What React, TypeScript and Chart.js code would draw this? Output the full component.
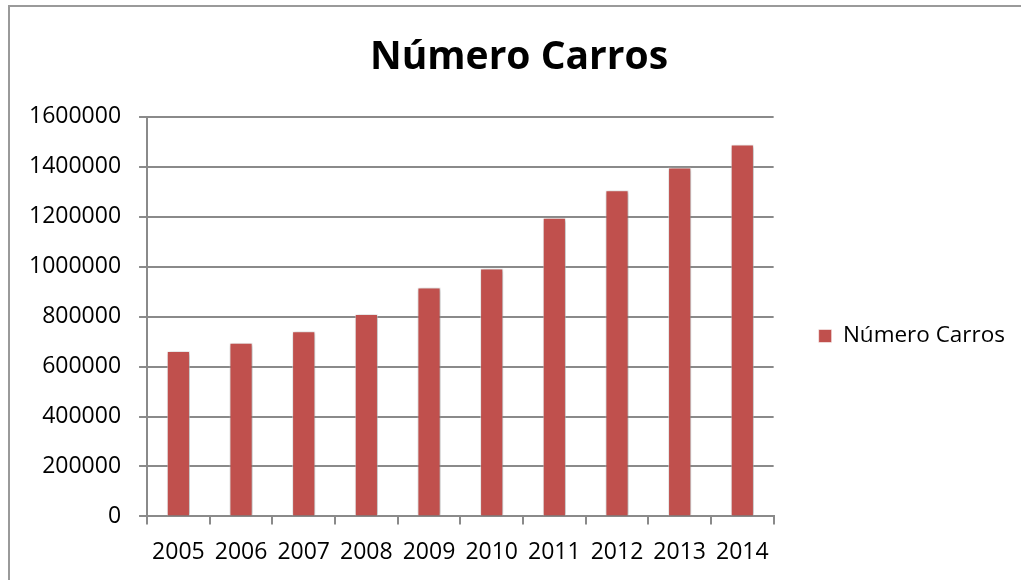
import React, { useEffect, useRef } from "react";
import { Chart, registerables } from "chart.js";

Chart.register(...registerables);

const categories = ["2005", "2006", "2007", "2008", "2009", "2010", "2011", "2012", "2013", "2014"];
const carros = [662000, 695000, 741000, 810000, 917000, 993000, 1196000, 1306000, 1397000, 1489000];
const seriesName = "Número Carros";
const chartTitle = "Número Carros";
const yMin = 0;
const yMax = 1600000;
const yStep = 200000;

const FONT = "'Open Sans', 'Noto Sans', sans-serif";

const shadowPlugin = {
  id: "barShadow",
  afterLayout(chart: any) {
    if (chart.titleBlock) {
      chart.titleBlock.left += 12;
    }
  },
  beforeDatasetsDraw(chart: any) {
    const ctx = chart.ctx;
    ctx.save();
    ctx.shadowColor = "rgba(0,0,0,0.35)";
    ctx.shadowBlur = 4;
    ctx.shadowOffsetX = 1;
    ctx.shadowOffsetY = 1;
  },
  afterDatasetsDraw(chart: any) {
    chart.ctx.restore();
  },
};

export default function App() {
  const ref = useRef<HTMLCanvasElement | null>(null);

  useEffect(() => {
    if (!ref.current) return;
    const chart = new Chart(ref.current, {
      type: "bar",
      data: {
        labels: categories,
        datasets: [
          {
            label: seriesName,
            data: carros,
            backgroundColor: "#C0504D",
            borderColor: "rgba(255,255,255,0.55)",
            borderWidth: 1,
            barPercentage: 0.37,
            categoryPercentage: 1,
          },
        ],
      },
      options: {
        responsive: false,
        animation: false,
        layout: { padding: { left: 11, right: 6, top: 0, bottom: 0 } },
        plugins: {
          title: {
            display: true,
            text: chartTitle,
            color: "#000",
            font: { family: FONT, size: 39, weight: "bold" },
            padding: { top: 34, bottom: 36 },
          },
          legend: {
            display: true,
            position: "right",
            title: {
              display: true,
              text: " ",
              font: { family: FONT, size: 10 },
              padding: { top: 0, bottom: 80 },
            },
            labels: {
              color: "#000",
              font: { family: FONT, size: 22.5 },
              boxWidth: 13,
              boxHeight: 13,
              padding: 45,
            },
          },
          tooltip: { enabled: false },
        },
        scales: {
          x: {
            grid: {
              display: true,
              drawOnChartArea: false,
              drawTicks: true,
              tickLength: 8,
              color: "#8a8a8a",
              lineWidth: 2,
            },
            border: { display: true, color: "#8a8a8a", width: 2 },
            ticks: {
              color: "#000",
              font: { family: FONT, size: 23 },
              padding: 14,
              maxRotation: 0,
            },
          },
          y: {
            min: yMin,
            max: yMax,
            grid: {
              color: "#8a8a8a",
              lineWidth: 2,
              drawTicks: true,
              tickLength: 8,
            },
            border: { display: true, color: "#8a8a8a", width: 2 },
            ticks: {
              stepSize: yStep,
              color: "#000",
              font: { family: FONT, size: 23 },
              padding: 18,
              callback: (v: any) => String(v),
            },
          },
        },
      },
      plugins: [shadowPlugin],
    });
    return () => chart.destroy();
  }, []);

  return (
    <div
      style={{
        position: "fixed",
        left: 0,
        top: 0,
        width: 1021,
        height: 580,
        overflow: "hidden",
        background: "#fff",
      }}
    >
      <div
        style={{
          position: "absolute",
          left: 8,
          top: 5,
          width: 1100,
          height: 700,
          border: "2px solid #9a9a9a",
        }}
      />
      <canvas
        ref={ref}
        width={1021}
        height={580}
        style={{ position: "absolute", left: 0, top: 0, width: 1021, height: 580 }}
      />
    </div>
  );
}
